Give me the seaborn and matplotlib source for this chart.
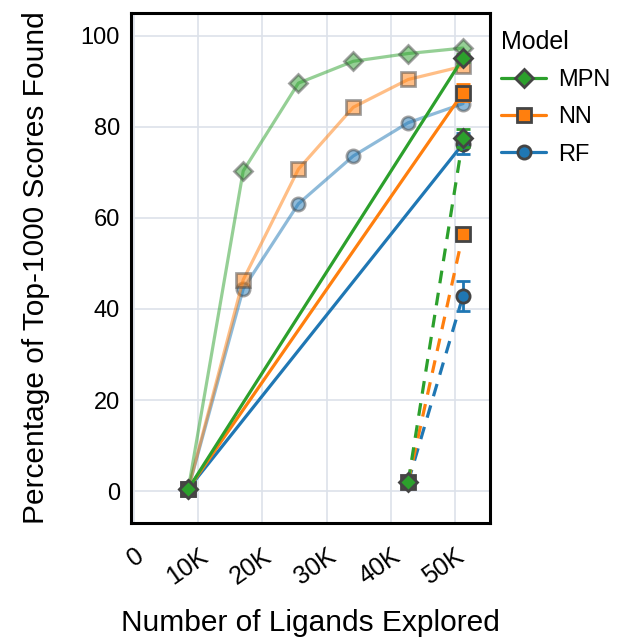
import matplotlib
matplotlib.use("Agg")
import matplotlib.pyplot as plt
import seaborn as sns
import pandas as pd
import numpy as np
from matplotlib.ticker import FixedLocator
from matplotlib.lines import Line2D

sns.set_theme(style="white")
plt.rcParams['font.family'] = ['Liberation Sans', 'DejaVu Sans']
plt.rcParams['text.color'] = 'black'
plt.rcParams['axes.labelcolor'] = 'black'

# ---- data ----
models = ["MPN", "NN", "RF"]
colors = {"MPN": "#2ca02c", "NN": "#ff7f0e", "RF": "#1f77b4"}
markers = {"MPN": "D", "NN": "s", "RF": "o"}

# full trajectories (faded)
x_full = [8450, 17000, 25600, 34150, 42700, 51250]
y_full = {
    "MPN": [0.5, 70.3, 89.6, 94.4, 96.1, 97.3],
    "NN":  [0.5, 46.4, 70.7, 84.3, 90.4, 93.3],
    "RF":  [0.5, 44.4, 63.1, 73.6, 80.9, 85.1],
}

# single-batch jump (solid)
x_solid = [8450, 51250]
y_solid = {"MPN": [0.5, 95.1], "NN": [0.5, 87.5], "RF": [0.5, 76.3]}
e_solid = {"MPN": [0.0, 0.8], "NN": [0.0, 1.9], "RF": [0.0, 2.3]}

# late batch (dashed)
x_dash = [42700, 51250]
y_dash = {"MPN": [2.0, 77.6], "NN": [2.0, 56.5], "RF": [2.0, 42.9]}
e_dash = {"MPN": [0.0, 2.0], "NN": [0.0, 0.6], "RF": [0.0, 3.3]}

xtick_vals = [0, 10000, 20000, 30000, 40000, 50000]
xtick_labels = ["0", "10K", "20K", "30K", "40K", "50K"]
ytick_vals = [0, 20, 40, 60, 80, 100]

fig = plt.figure(figsize=(6.17, 6.38), dpi=100)
ax = fig.add_axes([131/617, 1 - 523/638, (490-131)/617, (523-13)/638])

edge = "#444444"
lw = 2.3
ms = 9.5
order = ["RF", "NN", "MPN"]

# faded full curves
for m in order:
    df = pd.DataFrame({"x": x_full, "y": y_full[m]})
    sns.lineplot(data=df, x="x", y="y", ax=ax, color=colors[m], linewidth=lw,
                 marker=markers[m], markersize=ms,
                 markeredgecolor=edge, markeredgewidth=2, alpha=0.5, zorder=2,
                 legend=False)

# solid curves
for m in order:
    df = pd.DataFrame({"x": x_solid, "y": y_solid[m]})
    ax.errorbar(x_solid, y_solid[m], yerr=e_solid[m], fmt="none",
                ecolor=colors[m], elinewidth=2, capsize=5, capthick=2, zorder=3)
    sns.lineplot(data=df, x="x", y="y", ax=ax, color=colors[m], linewidth=lw,
                 marker=markers[m], markersize=ms, markerfacecolor=colors[m],
                 markeredgecolor=edge, markeredgewidth=2, zorder=4, legend=False)

# dashed curves
for m in order:
    df = pd.DataFrame({"x": x_dash, "y": y_dash[m]})
    ax.errorbar(x_dash, y_dash[m], yerr=e_dash[m], fmt="none",
                ecolor=colors[m], elinewidth=2, capsize=5, capthick=2, zorder=5)
    sns.lineplot(data=df, x="x", y="y", ax=ax, color=colors[m], linewidth=lw,
                 linestyle=(0, (4, 3)), marker=markers[m], markersize=ms,
                 markerfacecolor=colors[m], markeredgecolor=edge,
                 markeredgewidth=2, zorder=6, legend=False)

ax.set_xlim(-480, 55450)
ax.set_ylim(-7, 105)
ax.xaxis.set_major_locator(FixedLocator(xtick_vals))
ax.set_xticklabels(xtick_labels)
ax.yaxis.set_major_locator(FixedLocator(ytick_vals))
ax.set_yticklabels([str(v) for v in ytick_vals])
ax.grid(True, color="#dde2ea", linewidth=1.2)
ax.set_axisbelow(True)
for s in ax.spines.values():
    s.set_color("black")
    s.set_linewidth(2.2)
ax.tick_params(axis="both", length=0, labelsize=17, colors="black")
ax.tick_params(axis="x", pad=15, labelsize=18)
ax.tick_params(axis="y", pad=8)
for lab in ax.get_xticklabels():
    lab.set_rotation(35)
    lab.set_ha("right")
    lab.set_va("top")
    lab.set_rotation_mode("anchor")

ax.set_xlabel("Number of Ligands Explored", fontsize=21.5, labelpad=14, color="black")
ax.set_ylabel("Percentage of Top-1000 Scores Found", fontsize=21.5, labelpad=22, color="black")

handles = [Line2D([0], [0], color=colors[m], linewidth=lw, marker=markers[m],
                  markersize=ms, markerfacecolor=colors[m],
                  markeredgecolor=edge, markeredgewidth=2) for m in models]
leg = ax.legend(handles, models, title="Model", loc="upper left",
                bbox_to_anchor=(0.985, 1.0), frameon=False, fontsize=17,
                title_fontsize=18, handlelength=1.9, handletextpad=0.5,
                labelspacing=0.65, borderaxespad=0.3)
leg._legend_box.align = "left"
for t in leg.get_texts():
    t.set_color("black")
leg.get_title().set_color("black")

fig.savefig("out.png", dpi=100)
